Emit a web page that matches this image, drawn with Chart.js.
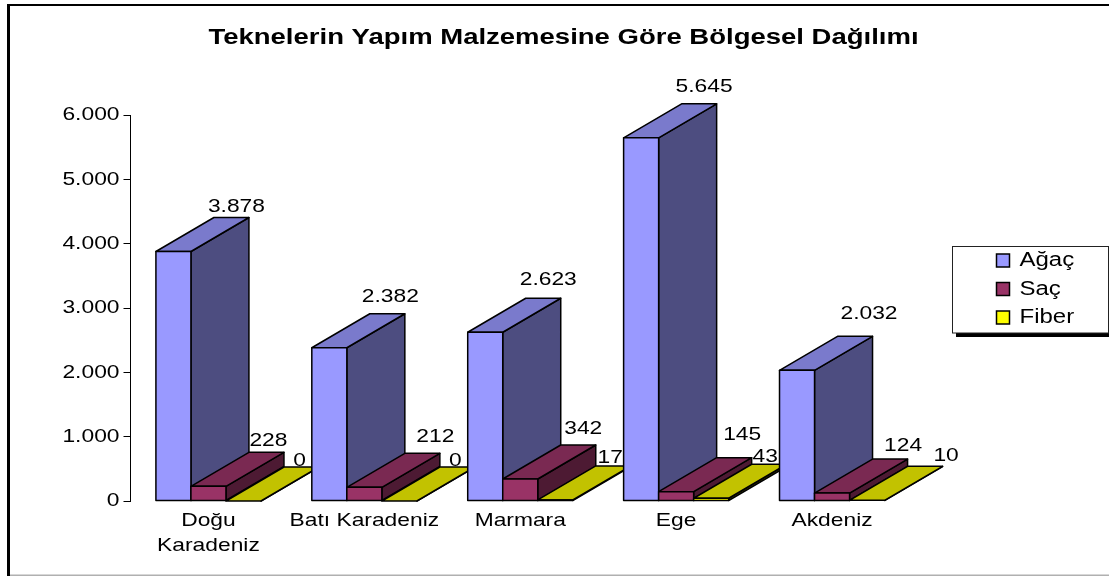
<!DOCTYPE html>
<html><head><meta charset="utf-8">
<style>html,body{margin:0;padding:0;background:#fff}#w{position:relative;width:1109px;height:576px}canvas{display:block}</style>
<script src="https://cdn.jsdelivr.net/npm/chart.js@4"></script>
</head><body><div id="w"><canvas id="c" width="1109" height="576"></canvas></div>
<script>
const categories = [["Doğu","Karadeniz"],"Batı Karadeniz","Marmara","Ege","Akdeniz"];
const agac  = [3878,2382,2623,5645,2032];
const sac   = [228,212,342,145,124];
const fiber = [0,0,17,43,10];
const chartTitle = "Teknelerin Yapım Malzemesine Göre Bölgesel Dağılımı";
const yTicks = {min:0,max:6000,step:1000};

// label nudges relative to the bar top centre, per series and category
const labelNudge = [
  [[63,-45],[61,-51],[63,-52],[63,-51],[72,-57]],
  [[60,-46],[71,-51],[63,-50],[66,-57],[71,-47]],
  [[56,-40],[56,-40],[55,-42],[54,-41],[79,-45]]
];
const fmt = v => String(v).replace(/\B(?=(\d{3})+$)/g,'.');
const DEPTH = {x:58,y:34};
const STRETCH = 1.2, STRETCH_BOLD = 1.25;
const FONT = 'Liberation Sans, Arial, sans-serif';

function poly(ctx,pts,fill){
  ctx.beginPath();pts.forEach((p,i)=>i?ctx.lineTo(p[0],p[1]):ctx.moveTo(p[0],p[1]));ctx.closePath();
  ctx.fillStyle=fill;ctx.fill();ctx.lineWidth=1.5;ctx.strokeStyle='#000';ctx.stroke();
}
const panel = {
  id:'panel',
  beforeUpdate(chart){
    const ctx=chart.ctx;
    if(!ctx.__patched){
      const o=ctx.fillText.bind(ctx);
      ctx.fillText=function(t,x,y,m){
        const s=/bold/.test(ctx.font)?STRETCH_BOLD:STRETCH;
        ctx.save();ctx.translate(x,y);ctx.scale(s,1);o(t,0,0);ctx.restore();
      };
      ctx.__patched=true;
    }
  },
  afterLayout(chart){
    const t=chart.titleBlock; t.left=0; t.right=1127;
    const l=chart.legend; const w=l.width,h=l.height;
    l.left=988; l.top=242; l.right=988+w; l.bottom=242+h; l.adjustHitBoxes();
  },
  beforeDraw(chart){
    const c=chart.ctx; c.save();
    c.fillStyle='#fff';c.fillRect(0,0,1109,576);
    c.strokeStyle='#000';c.lineWidth=3;
    c.beginPath();c.moveTo(8.5,576);c.lineTo(8.5,5);c.stroke();
    c.lineWidth=2;c.beginPath();c.moveTo(7,5);c.lineTo(1109,5);c.stroke();
    c.strokeStyle='#b0b0b0';c.lineWidth=1.5;c.beginPath();c.moveTo(10,575.3);c.lineTo(1109,575.3);c.stroke();
    // legend frame with its shadow
    c.fillStyle='#000';c.fillRect(956,333,153,4);
    c.fillStyle='#fff';c.fillRect(952,246,157,87);
    c.strokeStyle='#222';c.lineWidth=1;c.strokeRect(952.5,246.5,156,86.5);
    c.restore();
  },
  afterDatasetsDraw(chart){
    const c=chart.ctx; c.save();
    const ds=chart.data.datasets;
    c.lineJoin='round';
    chart.data.labels.forEach((_,j)=>{
      ds.forEach((d,i)=>{
        const b=chart.getDatasetMeta(i).data[j];
        const L=b.x-b.width/2,R=b.x+b.width/2,T=b.y,B=b.base,dx=DEPTH.x,dy=DEPTH.y;
        poly(c,[[R,B],[R+dx,B-dy],[R+dx,T-dy],[R,T]],d.sideColor);
        poly(c,[[L,T],[R,T],[R+dx,T-dy],[L+dx,T-dy]],d.topColor);
        if(B-T>0.5) poly(c,[[L,T],[R,T],[R,B],[L,B]],d.backgroundColor);
      });
    });
    c.restore();
  },
  afterDraw(chart){
    const c=chart.ctx; c.save();
    c.font='19px '+FONT;c.fillStyle='#000';c.textAlign='center';c.textBaseline='middle';
    chart.data.datasets.forEach((d,i)=>{
      chart.getDatasetMeta(i).data.forEach((b,j)=>{
        const n=labelNudge[i][j];
        c.fillText(fmt(d.data[j]),b.x+n[0],b.y+n[1]);
      });
    });
    c.restore();
  }
};
new Chart(document.getElementById('c'),{
  type:'bar',
  data:{labels:categories,datasets:[
    {label:'Ağaç',data:agac,backgroundColor:'#9999FF',topColor:'#7A7ACC',sideColor:'#4D4D80',borderColor:'#000',borderWidth:1.5},
    {label:'Saç',data:sac,backgroundColor:'#993366',topColor:'#7A2952',sideColor:'#4D1A33',borderColor:'#000',borderWidth:1.5},
    {label:'Fiber',data:fiber,backgroundColor:'#FFFF00',topColor:'#C2C200',sideColor:'#808000',borderColor:'#000',borderWidth:1.5}
  ]},
  options:{
    responsive:false,animation:false,
    layout:{padding:{left:0,right:199,top:0,bottom:0}},
    datasets:{bar:{categoryPercentage:0.674,barPercentage:1}},
    scales:{
      x:{
        afterFit(s){s.height=75;},
        grid:{display:false},border:{display:false},
        ticks:{autoSkip:false,maxRotation:0,minRotation:0,padding:-1,color:'#000',font:{family:FONT,size:19,lineHeight:1.32}}
      },
      y:{
        min:yTicks.min,max:yTicks.max,
        afterFit(s){s.width=130.5;},
        border:{display:true,color:'#000',width:1},
        grid:{drawOnChartArea:false,drawTicks:true,tickLength:7,color:'#000',lineWidth:1},
        ticks:{stepSize:yTicks.step,padding:4,color:'#000',font:{family:FONT,size:19},callback:v=>fmt(v)}
      }
    },
    plugins:{
      tooltip:{enabled:false},
      title:{display:true,text:chartTitle,color:'#000',font:{family:FONT,size:22,weight:'bold',lineHeight:1.2},padding:{top:25,bottom:63.6}},
      legend:{display:true,position:'chartArea',align:'start',onClick:null,
        labels:{boxWidth:13,boxHeight:13,padding:8.5,color:'#000',font:{family:FONT,size:20}}}
    }
  },
  plugins:[panel]
});
</script></body></html>
